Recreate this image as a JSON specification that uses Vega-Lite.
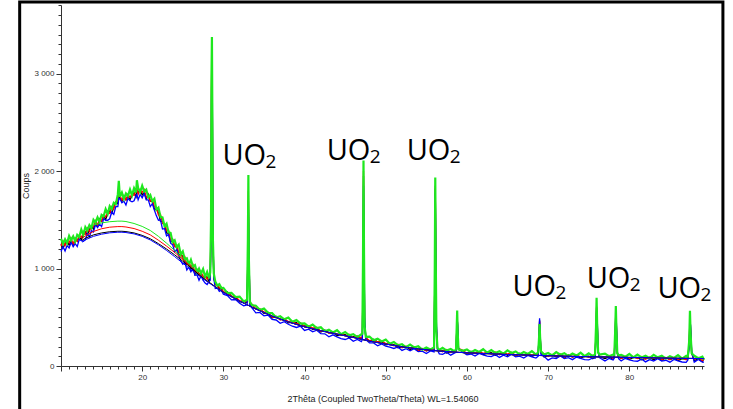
{
"$schema": "https://vega.github.io/schema/vega-lite/v6.json",
"width": 643, "height": 361,
"autosize": {"type": "none"},
"padding": {"left": 61, "top": 5, "right": 29, "bottom": 43},
"background": "white",
"config": {"view": {"stroke": null}, "font": "Liberation Sans",
  "axis": {"labelFontSize": 8, "labelColor": "#333", "labelPadding": 2, "labelOverlap": false, "labelFlush": false,
           "tickColor": "#333", "domainColor": "#333", "grid": false,
           "titleFontSize": 9, "titleFontWeight": "normal", "titleColor": "#222"},
  "axisX": {"titlePadding": 13},
  "axisY": {"titlePadding": 3}},
"datasets": {
"frame": [{"x": 4.91, "x1": 91.53, "y": -1000, "y1": 3733}],
"ann": [{"x": 29.88, "y": 2062}, {"x": 42.73, "y": 2113}, {"x": 52.58, "y": 2113}, {"x": 65.6, "y": 718}, {"x": 74.75, "y": 803}, {"x": 83.46, "y": 694}],
"main": [
{"x":10,"g":1305,"r":1230,"k":1255,"b":1175},
{"x":10.25,"g":1255,"r":1280,"k":1210,"b":1225},
{"x":10.5,"g":1300,"r":1235,"k":1255,"b":1180},
{"x":10.75,"g":1260,"r":1285,"k":1280,"b":1235},
{"x":11,"g":1335,"r":1265,"k":1240,"b":1210},
{"x":11.25,"g":1290,"r":1310,"k":1280,"b":1270},
{"x":11.5,"g":1330,"r":1250,"k":1235,"b":1225},
{"x":11.75,"g":1280,"r":1300,"k":1310,"b":1255},
{"x":12,"g":1345,"r":1280,"k":1280,"b":1225},
{"x":12.25,"g":1325,"r":1340,"k":1325,"b":1300},
{"x":12.5,"g":1400,"r":1320,"k":1295,"b":1285},
{"x":12.75,"g":1345,"r":1360,"k":1345,"b":1280},
{"x":13,"g":1425,"r":1350,"k":1375,"b":1295},
{"x":13.25,"g":1390,"r":1415,"k":1345,"b":1360},
{"x":13.5,"g":1445,"r":1380,"k":1400,"b":1325},
{"x":13.75,"g":1415,"r":1440,"k":1435,"b":1390},
{"x":14,"g":1500,"r":1430,"k":1405,"b":1375},
{"x":14.25,"g":1470,"r":1490,"k":1460,"b":1450},
{"x":14.5,"g":1525,"r":1445,"k":1430,"b":1420},
{"x":14.75,"g":1480,"r":1500,"k":1510,"b":1455},
{"x":15,"g":1550,"r":1485,"k":1485,"b":1430},
{"x":15.25,"g":1535,"r":1550,"k":1535,"b":1510},
{"x":15.5,"g":1610,"r":1530,"k":1505,"b":1495},
{"x":15.75,"g":1560,"r":1575,"k":1560,"b":1495},
{"x":16,"g":1640,"r":1565,"k":1590,"b":1510},
{"x":16.25,"g":1610,"r":1635,"k":1565,"b":1580},
{"x":16.5,"g":1675,"r":1610,"k":1630,"b":1555},
{"x":16.75,"g":1660,"r":1685,"k":1680,"b":1635},
{"x":17,"g":1760,"r":1690,"k":1665,"b":1635},
{"x":17.12,"g":1900,"r":1800,"k":1750,"b":1720},
{"x":17.25,"g":1735,"r":1755,"k":1725,"b":1715},
{"x":17.5,"g":1780,"r":1700,"k":1685,"b":1675},
{"x":17.75,"g":1715,"r":1735,"k":1745,"b":1690},
{"x":18,"g":1770,"r":1705,"k":1705,"b":1650},
{"x":18.25,"g":1745,"r":1760,"k":1745,"b":1720},
{"x":18.5,"g":1810,"r":1730,"k":1705,"b":1695},
{"x":18.75,"g":1750,"r":1765,"k":1750,"b":1685},
{"x":19,"g":1825,"r":1750,"k":1775,"b":1695},
{"x":19.25,"g":1780,"r":1805,"k":1735,"b":1750},
{"x":19.35,"g":1905,"r":1830,"k":1800,"b":1760},
{"x":19.5,"g":1825,"r":1760,"k":1780,"b":1705},
{"x":19.75,"g":1785,"r":1810,"k":1805,"b":1760},
{"x":20,"g":1850,"r":1780,"k":1755,"b":1725},
{"x":20.25,"g":1790,"r":1810,"k":1780,"b":1770},
{"x":20.5,"g":1810,"r":1730,"k":1715,"b":1705},
{"x":20.75,"g":1730,"r":1750,"k":1760,"b":1705},
{"x":21,"g":1755,"r":1690,"k":1690,"b":1635},
{"x":21.25,"g":1690,"r":1705,"k":1690,"b":1665},
{"x":21.5,"g":1715,"r":1635,"k":1610,"b":1600},
{"x":21.75,"g":1605,"r":1620,"k":1605,"b":1540},
{"x":22,"g":1625,"r":1550,"k":1575,"b":1495},
{"x":22.25,"g":1530,"r":1555,"k":1485,"b":1500},
{"x":22.5,"g":1525,"r":1460,"k":1480,"b":1405},
{"x":22.75,"g":1435,"r":1460,"k":1455,"b":1410},
{"x":23,"g":1460,"r":1390,"k":1365,"b":1335},
{"x":23.25,"g":1370,"r":1390,"k":1360,"b":1350},
{"x":23.5,"g":1365,"r":1285,"k":1270,"b":1260},
{"x":23.75,"g":1270,"r":1290,"k":1300,"b":1245},
{"x":24,"g":1290,"r":1225,"k":1225,"b":1170},
{"x":24.25,"g":1220,"r":1235,"k":1220,"b":1195},
{"x":24.5,"g":1245,"r":1165,"k":1140,"b":1130},
{"x":24.75,"g":1145,"r":1160,"k":1145,"b":1080},
{"x":25,"g":1175,"r":1100,"k":1125,"b":1045},
{"x":25.25,"g":1095,"r":1120,"k":1050,"b":1065},
{"x":25.5,"g":1105,"r":1040,"k":1060,"b":985},
{"x":25.75,"g":1040,"r":1065,"k":1060,"b":1015},
{"x":26,"g":1090,"r":1020,"k":995,"b":965},
{"x":26.25,"g":1020,"r":1040,"k":1010,"b":1000},
{"x":26.5,"g":1035,"r":955,"k":940,"b":930},
{"x":26.75,"g":960,"r":980,"k":990,"b":935},
{"x":27,"g":1000,"r":935,"k":935,"b":880},
{"x":27.25,"g":950,"r":965,"k":950,"b":925},
{"x":27.5,"g":995,"r":915,"k":890,"b":880},
{"x":27.75,"g":915,"r":930,"k":915,"b":850},
{"x":28,"g":965,"r":890,"k":915,"b":835},
{"x":28.25,"g":900,"r":925,"k":855,"b":870},
{"x":28.38,"g":960,"r":930,"k":920,"b":880},
{"x":28.48,"g":1500,"r":1450,"k":1400,"b":1300},
{"x":28.54,"g":3000,"r":2900,"k":2850,"b":2700},
{"x":28.59,"g":3374,"r":3330,"k":3280,"b":3230},
{"x":28.64,"g":2600,"r":2700,"k":2650,"b":2800},
{"x":28.71,"g":1300,"r":1350,"k":1300,"b":1400},
{"x":28.82,"g":950,"r":920,"k":900,"b":900},
{"x":29,"g":868,"r":833,"k":842,"b":795},
{"x":29.25,"g":825,"r":835,"k":832,"b":800},
{"x":29.5,"g":840,"r":803,"k":790,"b":765},
{"x":29.75,"g":800,"r":807,"k":793,"b":777},
{"x":30,"g":802,"r":760,"k":753,"b":737},
{"x":30.5,"g":748,"r":755,"k":760,"b":722},
{"x":31,"g":750,"r":715,"k":715,"b":678},
{"x":31.5,"g":707,"r":712,"k":705,"b":682},
{"x":32,"g":712,"r":670,"k":658,"b":643},
{"x":32.5,"g":663,"r":668,"k":660,"b":618},
{"x":32.92,"g":680,"r":660,"k":650,"b":625},
{"x":33.02,"g":1300,"r":1200,"k":1150,"b":1100},
{"x":33.08,"g":1959,"r":1800,"k":1700,"b":1600},
{"x":33.14,"g":1100,"r":1250,"k":1200,"b":1300},
{"x":33.26,"g":660,"r":650,"k":640,"b":620},
{"x":33.5,"g":625,"r":635,"k":600,"b":598},
{"x":34,"g":618,"r":583,"k":592,"b":545},
{"x":34.5,"g":575,"r":585,"k":582,"b":550},
{"x":35,"g":590,"r":553,"k":540,"b":515},
{"x":35.5,"g":545,"r":552,"k":538,"b":522},
{"x":36,"g":542,"r":500,"k":493,"b":477},
{"x":36.5,"g":498,"r":505,"k":510,"b":472},
{"x":37,"g":510,"r":475,"k":475,"b":438},
{"x":37.5,"g":479,"r":484,"k":477,"b":454},
{"x":38,"g":497,"r":455,"k":443,"b":428},
{"x":38.5,"g":453,"r":458,"k":450,"b":408},
{"x":39,"g":472,"r":432,"k":445,"b":395},
{"x":39.5,"g":435,"r":445,"k":410,"b":408},
{"x":40,"g":438,"r":403,"k":412,"b":365},
{"x":40.5,"g":403,"r":413,"k":410,"b":378},
{"x":41,"g":425,"r":388,"k":375,"b":350},
{"x":41.5,"g":390,"r":397,"k":383,"b":367},
{"x":42,"g":397,"r":355,"k":348,"b":332},
{"x":42.5,"g":356,"r":363,"k":368,"b":330},
{"x":43,"g":372,"r":337,"k":337,"b":300},
{"x":43.5,"g":345,"r":350,"k":343,"b":320},
{"x":44,"g":367,"r":325,"k":313,"b":298},
{"x":44.5,"g":326,"r":331,"k":323,"b":281},
{"x":45,"g":349,"r":309,"k":322,"b":272},
{"x":45.5,"g":315,"r":325,"k":290,"b":288},
{"x":46,"g":326,"r":291,"k":300,"b":253},
{"x":46.5,"g":297,"r":307,"k":304,"b":272},
{"x":47,"g":325,"r":288,"k":275,"b":250},
{"x":47.12,"g":330,"r":300,"k":290,"b":270},
{"x":47.2,"g":1100,"r":1000,"k":950,"b":900},
{"x":47.26,"g":2107,"r":2000,"k":1950,"b":1850},
{"x":47.32,"g":1200,"r":1300,"k":1250,"b":1400},
{"x":47.4,"g":400,"r":450,"k":420,"b":500},
{"x":47.55,"g":300,"r":290,"k":285,"b":270},
{"x":48,"g":302,"r":260,"k":253,"b":237},
{"x":48.5,"g":263,"r":270,"k":275,"b":237},
{"x":49,"g":280,"r":245,"k":245,"b":208},
{"x":49.5,"g":252,"r":257,"k":250,"b":227},
{"x":50,"g":272,"r":230,"k":218,"b":203},
{"x":50.5,"g":228,"r":233,"k":225,"b":193},
{"x":51,"g":247,"r":207,"k":220,"b":180},
{"x":51.5,"g":212,"r":222,"k":187,"b":195},
{"x":52,"g":223,"r":188,"k":197,"b":160},
{"x":52.5,"g":192,"r":202,"k":199,"b":177},
{"x":53,"g":220,"r":183,"k":170,"b":155},
{"x":53.5,"g":190,"r":197,"k":183,"b":177},
{"x":54,"g":202,"r":160,"k":153,"b":147},
{"x":54.5,"g":168,"r":175,"k":180,"b":152},
{"x":55,"g":190,"r":155,"k":155,"b":128},
{"x":55.5,"g":170,"r":175,"k":168,"b":155},
{"x":55.95,"g":190,"r":165,"k":160,"b":145},
{"x":56.04,"g":1000,"r":900,"k":880,"b":820},
{"x":56.1,"g":1933,"r":1850,"k":1820,"b":1780},
{"x":56.16,"g":1100,"r":1200,"k":1150,"b":1250},
{"x":56.24,"g":350,"r":400,"k":380,"b":450},
{"x":56.38,"g":185,"r":175,"k":170,"b":160},
{"x":56.6,"g":165,"r":162,"k":150,"b":125},
{"x":57,"g":187,"r":147,"k":160,"b":120},
{"x":57.5,"g":158,"r":168,"k":133,"b":141},
{"x":58,"g":174,"r":139,"k":148,"b":111},
{"x":58.5,"g":149,"r":159,"k":156,"b":134},
{"x":58.66,"g":175,"r":160,"k":155,"b":140},
{"x":58.74,"g":400,"r":370,"k":360,"b":340},
{"x":58.8,"g":569,"r":510,"k":500,"b":480},
{"x":58.86,"g":350,"r":400,"k":380,"b":420},
{"x":58.96,"g":170,"r":180,"k":170,"b":180},
{"x":59.5,"g":155,"r":162,"k":148,"b":142},
{"x":60,"g":170,"r":128,"k":121,"b":115},
{"x":60.5,"g":139,"r":146,"k":151,"b":123},
{"x":61,"g":164,"r":129,"k":129,"b":102},
{"x":61.5,"g":144,"r":149,"k":142,"b":129},
{"x":62,"g":172,"r":130,"k":118,"b":113},
{"x":62.5,"g":136,"r":141,"k":133,"b":101},
{"x":63,"g":163,"r":123,"k":136,"b":96},
{"x":63.5,"g":134,"r":144,"k":109,"b":117},
{"x":64,"g":151,"r":116,"k":125,"b":88},
{"x":64.5,"g":126,"r":136,"k":133,"b":111},
{"x":65,"g":160,"r":123,"k":110,"b":95},
{"x":65.5,"g":133,"r":140,"k":126,"b":120},
{"x":66,"g":149,"r":107,"k":100,"b":94},
{"x":66.5,"g":118,"r":125,"k":130,"b":102},
{"x":67,"g":144,"r":109,"k":109,"b":82},
{"x":67.5,"g":124,"r":129,"k":122,"b":109},
{"x":68,"g":153,"r":111,"k":99,"b":94},
{"x":68.5,"g":117,"r":122,"k":114,"b":82},
{"x":68.78,"g":140,"r":120,"k":115,"b":100},
{"x":68.89,"g":300,"r":320,"k":330,"b":350},
{"x":68.95,"g":430,"r":460,"k":470,"b":490},
{"x":69.01,"g":300,"r":330,"k":320,"b":360},
{"x":69.12,"g":150,"r":140,"k":130,"b":120},
{"x":69.5,"g":117,"r":127,"k":92,"b":100},
{"x":70,"g":133,"r":98,"k":107,"b":60},
{"x":70.5,"g":108,"r":118,"k":115,"b":83},
{"x":71,"g":142,"r":105,"k":92,"b":77},
{"x":71.5,"g":115,"r":122,"k":108,"b":102},
{"x":72,"g":131,"r":89,"k":82,"b":76},
{"x":72.5,"g":101,"r":108,"k":113,"b":85},
{"x":73,"g":127,"r":92,"k":92,"b":65},
{"x":73.5,"g":107,"r":112,"k":105,"b":92},
{"x":74,"g":136,"r":94,"k":82,"b":77},
{"x":74.5,"g":101,"r":106,"k":98,"b":66},
{"x":75,"g":129,"r":89,"k":102,"b":62},
{"x":75.5,"g":100,"r":110,"k":75,"b":83},
{"x":75.78,"g":120,"r":100,"k":95,"b":80},
{"x":75.9,"g":400,"r":350,"k":340,"b":330},
{"x":75.97,"g":700,"r":610,"k":600,"b":570},
{"x":76.04,"g":420,"r":480,"k":460,"b":520},
{"x":76.16,"g":140,"r":150,"k":140,"b":160},
{"x":76.32,"g":118,"r":100,"k":95,"b":85},
{"x":77,"g":127,"r":90,"k":77,"b":52},
{"x":77.5,"g":101,"r":108,"k":94,"b":78},
{"x":78,"g":117,"r":75,"k":68,"b":62},
{"x":78.15,"g":115,"r":100,"k":95,"b":80},
{"x":78.27,"g":380,"r":360,"k":350,"b":330},
{"x":78.34,"g":615,"r":570,"k":560,"b":540},
{"x":78.41,"g":380,"r":420,"k":400,"b":440},
{"x":78.52,"g":130,"r":140,"k":130,"b":150},
{"x":78.68,"g":110,"r":95,"k":90,"b":75},
{"x":79,"g":113,"r":78,"k":78,"b":51},
{"x":79.5,"g":94,"r":99,"k":92,"b":79},
{"x":80,"g":123,"r":81,"k":69,"b":64},
{"x":80.5,"g":88,"r":93,"k":85,"b":53},
{"x":81,"g":116,"r":76,"k":89,"b":49},
{"x":81.5,"g":88,"r":98,"k":63,"b":71},
{"x":82,"g":105,"r":70,"k":79,"b":42},
{"x":82.5,"g":81,"r":91,"k":88,"b":66},
{"x":83,"g":115,"r":78,"k":65,"b":50},
{"x":83.5,"g":89,"r":96,"k":82,"b":76},
{"x":84,"g":105,"r":63,"k":56,"b":50},
{"x":84.5,"g":75,"r":82,"k":87,"b":59},
{"x":85,"g":101,"r":66,"k":66,"b":39},
{"x":85.5,"g":82,"r":87,"k":80,"b":67},
{"x":86,"g":111,"r":69,"k":57,"b":52},
{"x":86.5,"g":76,"r":81,"k":73,"b":41},
{"x":87,"g":104,"r":64,"k":77,"b":37},
{"x":87.2,"g":90,"r":80,"k":75,"b":60},
{"x":87.38,"g":260,"r":230,"k":220,"b":200},
{"x":87.47,"g":567,"r":510,"k":500,"b":450},
{"x":87.55,"g":330,"r":380,"k":360,"b":420},
{"x":87.68,"g":130,"r":140,"k":130,"b":150},
{"x":88,"g":105,"r":68,"k":55,"b":40},
{"x":88.5,"g":79,"r":86,"k":72,"b":66},
{"x":89,"g":95,"r":53,"k":46,"b":40},
{"x":89.2,"g":66,"r":73,"k":78,"b":40}
],
"bkg": [
{"x":12.6,"g":1370,"r":1310,"k":1290,"b":1270},
{"x":13,"g":1405,"r":1335,"k":1310,"b":1295},
{"x":14,"g":1445,"r":1380,"k":1345,"b":1330},
{"x":15,"g":1468,"r":1408,"k":1365,"b":1352},
{"x":16,"g":1480,"r":1424,"k":1377,"b":1366},
{"x":17,"g":1486,"r":1430,"k":1382,"b":1372},
{"x":17.5,"g":1486,"r":1430,"k":1382,"b":1372},
{"x":18,"g":1482,"r":1426,"k":1379,"b":1369},
{"x":19,"g":1462,"r":1410,"k":1365,"b":1355},
{"x":20,"g":1432,"r":1382,"k":1340,"b":1330},
{"x":21,"g":1390,"r":1345,"k":1305,"b":1293},
{"x":22,"g":1330,"r":1290,"k":1255,"b":1243},
{"x":23,"g":1260,"r":1230,"k":1200,"b":1185},
{"x":24,"g":1185,"r":1165,"k":1140,"b":1122},
{"x":25,"g":1105,"r":1095,"k":1075,"b":1055},
{"x":26,"g":1025,"r":1020,"k":1010,"b":990},
{"x":27,"g":945,"r":940,"k":935,"b":925},
{"x":28,"g":875,"r":872,"k":870,"b":865},
{"x":29,"g":815,"r":813,"k":812,"b":810},
{"x":30,"g":758,"r":757,"k":756,"b":755},
{"x":32,"g":665,"r":665,"k":665,"b":665},
{"x":34,"g":585,"r":585,"k":585,"b":585},
{"x":36,"g":512,"r":512,"k":512,"b":512},
{"x":38,"g":452,"r":452,"k":452,"b":452},
{"x":40,"g":402,"r":402,"k":402,"b":402},
{"x":42,"g":362,"r":362,"k":362,"b":362},
{"x":44,"g":327,"r":327,"k":327,"b":327},
{"x":46,"g":293,"r":293,"k":293,"b":293},
{"x":48,"g":255,"r":255,"k":255,"b":255},
{"x":50,"g":225,"r":225,"k":225,"b":225},
{"x":52,"g":197,"r":197,"k":197,"b":197},
{"x":54,"g":175,"r":175,"k":175,"b":175},
{"x":56,"g":158,"r":158,"k":158,"b":158},
{"x":58,"g":145,"r":145,"k":145,"b":145},
{"x":60,"g":135,"r":135,"k":135,"b":135},
{"x":65,"g":118,"r":118,"k":118,"b":118},
{"x":70,"g":105,"r":105,"k":105,"b":105},
{"x":75,"g":95,"r":95,"k":95,"b":95},
{"x":80,"g":88,"r":88,"k":88,"b":88},
{"x":85,"g":80,"r":80,"k":80,"b":80},
{"x":89.2,"g":76,"r":76,"k":76,"b":76}
]
},
"encoding": {
  "x": {"field": "x", "type": "quantitative", "title": "2Thêta (Coupled TwoTheta/Theta) WL=1.54060",
        "scale": {"domain": [10, 89.2], "nice": false, "zero": false},
        "axis": {"values": [10,11,12,13,14,15,16,17,18,19,20,21,22,23,24,25,26,27,28,29,30,31,32,33,34,35,36,37,38,39,40,41,42,43,44,45,46,47,48,49,50,51,52,53,54,55,56,57,58,59,60,61,62,63,64,65,66,67,68,69,70,71,72,73,74,75,76,77,78,79,80,81,82,83,84,85,86,87,88,89],
                 "labelExpr": "datum.value % 10 === 0 && datum.value > 10 ? datum.label : ''",
                 "tickSize": {"condition": {"test": "datum.value % 10 === 0", "value": 5}, "value": 3}}},
  "y": {"field": "y", "type": "quantitative", "title": "Coups",
        "scale": {"domain": [0, 3703], "nice": false, "zero": false},
        "axis": {"values": [0,100,200,300,400,500,600,700,800,900,1000,1100,1200,1300,1400,1500,1600,1700,1800,1900,2000,2100,2200,2300,2400,2500,2600,2700,2800,2900,3000,3100,3200,3300,3400,3500,3600,3700],
                 "labelExpr": "datum.value % 1000 === 0 ? replace(format(datum.value, ',d'), ',', ' ') : ''",
                 "tickSize": {"condition": {"test": "datum.value % 1000 === 0", "value": 5}, "value": 3}}}
},
"layer": [
{"data": {"name": "frame"},
 "mark": {"type": "rect", "filled": false, "fill": null, "stroke": "black", "strokeWidth": 3},
 "encoding": {"x2": {"field": "x1"}, "y2": {"field": "y1"}}},
{"data": {"name": "main"}, "mark": {"type": "line", "color": "#000000", "strokeWidth": 1.3},
 "encoding": {"y": {"field": "k", "type": "quantitative", "title": "Coups", "scale": {"domain": [0, 3703], "nice": false, "zero": false},
   "axis": {"values": [0,100,200,300,400,500,600,700,800,900,1000,1100,1200,1300,1400,1500,1600,1700,1800,1900,2000,2100,2200,2300,2400,2500,2600,2700,2800,2900,3000,3100,3200,3300,3400,3500,3600,3700], "labelExpr": "datum.value % 1000 === 0 ? replace(format(datum.value, ',d'), ',', ' ') : ''", "tickSize": {"condition": {"test": "datum.value % 1000 === 0", "value": 5}, "value": 3}}}}},
{"data": {"name": "main"}, "mark": {"type": "line", "color": "#ff0000", "strokeWidth": 1.3},
 "encoding": {"y": {"field": "r", "type": "quantitative", "title": "Coups", "scale": {"domain": [0, 3703], "nice": false, "zero": false},
   "axis": {"values": [0,100,200,300,400,500,600,700,800,900,1000,1100,1200,1300,1400,1500,1600,1700,1800,1900,2000,2100,2200,2300,2400,2500,2600,2700,2800,2900,3000,3100,3200,3300,3400,3500,3600,3700], "labelExpr": "datum.value % 1000 === 0 ? replace(format(datum.value, ',d'), ',', ' ') : ''", "tickSize": {"condition": {"test": "datum.value % 1000 === 0", "value": 5}, "value": 3}}}}},
{"data": {"name": "main"}, "mark": {"type": "line", "color": "#0000ff", "strokeWidth": 1.3},
 "encoding": {"y": {"field": "b", "type": "quantitative", "title": "Coups", "scale": {"domain": [0, 3703], "nice": false, "zero": false},
   "axis": {"values": [0,100,200,300,400,500,600,700,800,900,1000,1100,1200,1300,1400,1500,1600,1700,1800,1900,2000,2100,2200,2300,2400,2500,2600,2700,2800,2900,3000,3100,3200,3300,3400,3500,3600,3700], "labelExpr": "datum.value % 1000 === 0 ? replace(format(datum.value, ',d'), ',', ' ') : ''", "tickSize": {"condition": {"test": "datum.value % 1000 === 0", "value": 5}, "value": 3}}}}},
{"data": {"name": "main"}, "mark": {"type": "line", "color": "#1ee81e", "strokeWidth": 2.2},
 "encoding": {"y": {"field": "g", "type": "quantitative", "title": "Coups", "scale": {"domain": [0, 3703], "nice": false, "zero": false},
   "axis": {"values": [0,100,200,300,400,500,600,700,800,900,1000,1100,1200,1300,1400,1500,1600,1700,1800,1900,2000,2100,2200,2300,2400,2500,2600,2700,2800,2900,3000,3100,3200,3300,3400,3500,3600,3700], "labelExpr": "datum.value % 1000 === 0 ? replace(format(datum.value, ',d'), ',', ' ') : ''", "tickSize": {"condition": {"test": "datum.value % 1000 === 0", "value": 5}, "value": 3}}}}},
{"data": {"name": "bkg"}, "mark": {"type": "line", "color": "#1ee81e", "strokeWidth": 1},
 "encoding": {"y": {"field": "g", "type": "quantitative", "title": "Coups", "scale": {"domain": [0, 3703], "nice": false, "zero": false},
   "axis": {"values": [0,100,200,300,400,500,600,700,800,900,1000,1100,1200,1300,1400,1500,1600,1700,1800,1900,2000,2100,2200,2300,2400,2500,2600,2700,2800,2900,3000,3100,3200,3300,3400,3500,3600,3700], "labelExpr": "datum.value % 1000 === 0 ? replace(format(datum.value, ',d'), ',', ' ') : ''", "tickSize": {"condition": {"test": "datum.value % 1000 === 0", "value": 5}, "value": 3}}}}},
{"data": {"name": "bkg"}, "mark": {"type": "line", "color": "#ff0000", "strokeWidth": 1},
 "encoding": {"y": {"field": "r", "type": "quantitative", "title": "Coups", "scale": {"domain": [0, 3703], "nice": false, "zero": false},
   "axis": {"values": [0,100,200,300,400,500,600,700,800,900,1000,1100,1200,1300,1400,1500,1600,1700,1800,1900,2000,2100,2200,2300,2400,2500,2600,2700,2800,2900,3000,3100,3200,3300,3400,3500,3600,3700], "labelExpr": "datum.value % 1000 === 0 ? replace(format(datum.value, ',d'), ',', ' ') : ''", "tickSize": {"condition": {"test": "datum.value % 1000 === 0", "value": 5}, "value": 3}}}}},
{"data": {"name": "bkg"}, "mark": {"type": "line", "color": "#000000", "strokeWidth": 1},
 "encoding": {"y": {"field": "k", "type": "quantitative", "title": "Coups", "scale": {"domain": [0, 3703], "nice": false, "zero": false},
   "axis": {"values": [0,100,200,300,400,500,600,700,800,900,1000,1100,1200,1300,1400,1500,1600,1700,1800,1900,2000,2100,2200,2300,2400,2500,2600,2700,2800,2900,3000,3100,3200,3300,3400,3500,3600,3700], "labelExpr": "datum.value % 1000 === 0 ? replace(format(datum.value, ',d'), ',', ' ') : ''", "tickSize": {"condition": {"test": "datum.value % 1000 === 0", "value": 5}, "value": 3}}}}},
{"data": {"name": "bkg"}, "mark": {"type": "line", "color": "#0000ff", "strokeWidth": 1},
 "encoding": {"y": {"field": "b", "type": "quantitative", "title": "Coups", "scale": {"domain": [0, 3703], "nice": false, "zero": false},
   "axis": {"values": [0,100,200,300,400,500,600,700,800,900,1000,1100,1200,1300,1400,1500,1600,1700,1800,1900,2000,2100,2200,2300,2400,2500,2600,2700,2800,2900,3000,3100,3200,3300,3400,3500,3600,3700], "labelExpr": "datum.value % 1000 === 0 ? replace(format(datum.value, ',d'), ',', ' ') : ''", "tickSize": {"condition": {"test": "datum.value % 1000 === 0", "value": 5}, "value": 3}}}}},
{"data": {"name": "ann"}, "mark": {"type": "text", "text": "UO", "font": "Open Sans", "fontSize": 29, "align": "left", "baseline": "alphabetic", "color": "#000000"}},
{"data": {"name": "ann"}, "mark": {"type": "text", "text": "2", "font": "Open Sans", "fontSize": 19, "dx": 43, "dy": 3, "align": "left", "baseline": "alphabetic", "color": "#000000"}}
]
}
